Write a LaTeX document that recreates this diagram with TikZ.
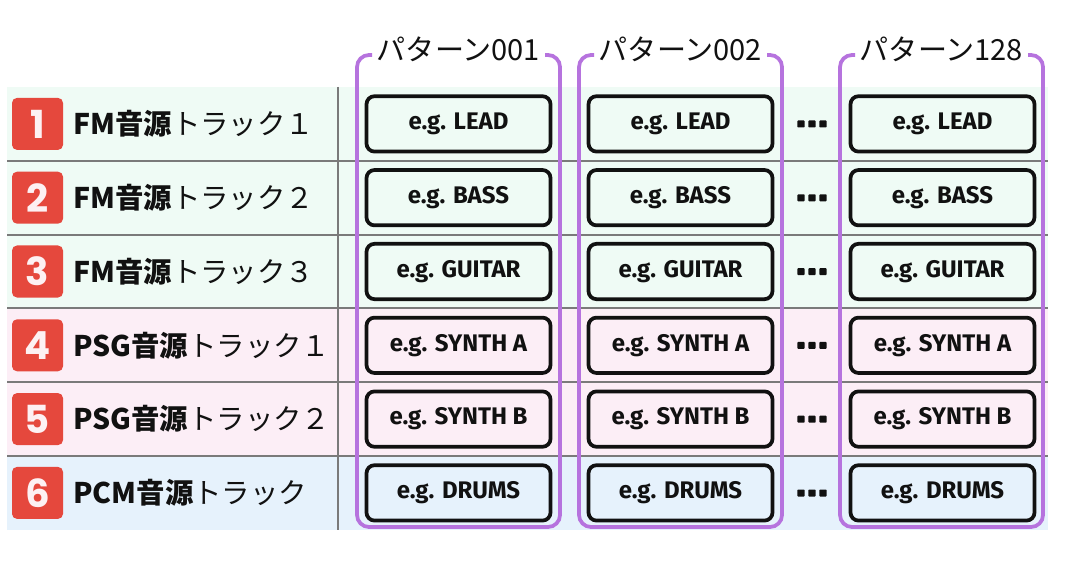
\documentclass[tikz,border=0pt]{standalone}
\usepackage{fontspec}
\setmainfont{Noto Sans CJK JP}
\newfontfamily\boxfont{Fira Sans}
\newfontfamily\badgefont{Poppins}
\definecolor{rowfm}{HTML}{EFFBF5}
\definecolor{rowpsg}{HTML}{FCEEF6}
\definecolor{rowpcm}{HTML}{E6F2FC}
\definecolor{badgered}{HTML}{E5483D}
\definecolor{badgetext}{HTML}{FDF1F3}
\definecolor{patpurple}{HTML}{B673DE}
\definecolor{gridgray}{HTML}{7A7A7A}
\definecolor{inkblack}{HTML}{111111}
\begin{document}
\begin{tikzpicture}[x=0.75pt,y=-0.75pt,
  tracklabel/.style={anchor=west, inner sep=0, text=inkblack, font=\fontsize{21.3pt}{25pt}\selectfont},
  badge/.style={fill=badgered, rounded corners=3.75pt, minimum width=38.25pt, minimum height=39pt, inner sep=0, text=badgetext, font=\badgefont\bfseries\fontsize{29pt}{32pt}\selectfont},
  patbox/.style={draw=inkblack, fill=#1, line width=2.8pt, rounded corners=6pt, minimum width=138pt, minimum height=41.5pt, inner sep=0, text=inkblack, font=\boxfont\bfseries\fontsize{18pt}{21pt}\selectfont},
  pattitle/.style={inner sep=0, text=inkblack, font=\fontsize{21.8pt}{25pt}\selectfont},
  bracket/.style={draw=patpurple, line width=2.8pt, rounded corners=9pt},
  gridline/.style={draw=gridgray, line width=1.5pt},
  dotmark/.style={fill=inkblack}
]
\useasboundingbox (0,0) rectangle (1070,570);
\fill[white] (0,0) rectangle (1070,570);
% row bands
\foreach \i/\c in {1/rowfm,2/rowfm,3/rowfm,4/rowpsg,5/rowpsg,6/rowpcm}{
  \pgfmathsetmacro\ytop{87+73.8*(\i-1)}
  \pgfmathsetmacro\ybot{87+73.8*\i}
  \fill[\c] (7,\ytop) rectangle (1048,\ybot);
}
% grid lines
\foreach \i in {1,...,5}{
  \pgfmathsetmacro\yl{87+73.8*\i}
  \draw[gridline] (7,\yl) -- (1048,\yl);
}
\draw[gridline] (338,87) -- (338,530);
% pattern brackets and titles
\foreach \j/\cx/\ttl in {1/458.5/パターン001,2/680.5/パターン002,3/941.5/パターン128}{
  \node[pattitle] (title\j) at (\cx,49.5) {\ttl};
  \draw[bracket] (\cx-86.5,55) -- (\cx-101.5,55) -- (\cx-101.5,527) -- (\cx+101.5,527) -- (\cx+101.5,55) -- (\cx+86.5,55);
}
% rows
\foreach \i/\c/\lab/\inst in {1/rowfm/{\textbf{FM音源}トラック１}/LEAD,
                             2/rowfm/{\textbf{FM音源}トラック２}/BASS,
                             3/rowfm/{\textbf{FM音源}トラック３}/GUITAR,
                             4/rowpsg/{\textbf{PSG音源}トラック１}/SYNTH A,
                             5/rowpsg/{\textbf{PSG音源}トラック２}/SYNTH B,
                             6/rowpcm/{\textbf{PCM音源}トラック}/DRUMS}{
  \pgfmathsetmacro\cy{87+73.8*(\i-0.5)}
  \node[badge] (badge\i) at (37.5,\cy) {\i};
  \node[tracklabel] (label\i) at (73,\cy) {\lab};
  \foreach \j/\cx in {1/458.5,2/680.5,3/942.5}{
    \node[patbox=\c] (box\i-\j) at (\cx,\cy) {e.g. \inst};
  }
  \foreach \dx in {801,812,823}{
    \fill[dotmark, rounded corners=0.6pt] (\dx-3.6,\cy-3.4) rectangle (\dx+3.6,\cy+3.6);
  }
}
\end{tikzpicture}
\end{document}
